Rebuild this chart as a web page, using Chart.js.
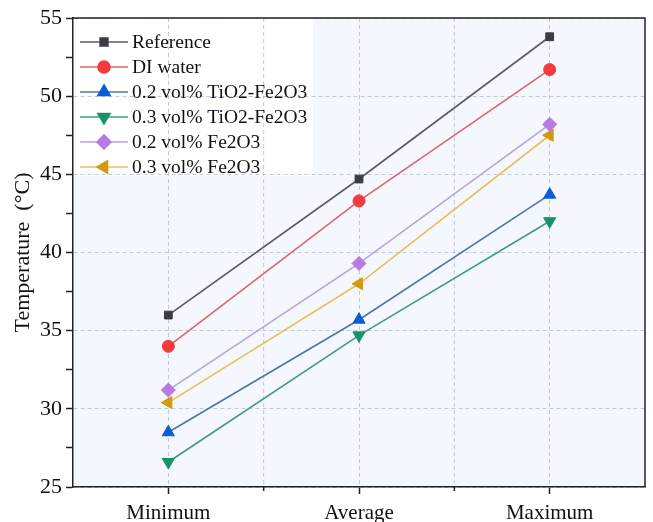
<!DOCTYPE html>
<html>
<head>
<meta charset="utf-8">
<script src="https://cdn.jsdelivr.net/npm/chart.js@4"></script>
<style>
  html, body { margin: 0; padding: 0; background: #fff; overflow: hidden; }
  #wrap { width: 653px; height: 522px; }
</style>
</head>
<body>
<div id="wrap"><canvas id="tempChart"></canvas></div>
<script>
// Dados
const categorias = ['Minimum', 'Average', 'Maximum'];
const reference = [36.0, 44.7, 53.8];
const diWater = [34.0, 43.3, 51.7];
const tio2Fe2o3_02 = [28.5, 35.7, 43.7];
const tio2Fe2o3_03 = [26.6, 34.7, 42.0];
const fe2o3_02 = [31.2, 39.3, 48.2];
const fe2o3_03 = [30.4, 38.0, 47.5];

const fonte = '"Liberation Serif", "Times New Roman", serif';
const corGrade = 'rgba(170, 180, 205, 0.7)';

const serie = (label, data, line, marker, style, radius, rot) => ({
    label, data,
    borderColor: line,
    borderWidth: 1.6,
    pointStyle: style,
    pointRotation: rot || 0,
    pointRadius: radius,
    pointBackgroundColor: marker,
    pointBorderColor: marker,
    pointBorderWidth: 1,
    tension: 0
});

// Fundo da área do gráfico, caixa da legenda e moldura
const molduraPlugin = {
    id: 'moldura',
    beforeDraw(chart) {
        const { ctx, chartArea: a } = chart;
        ctx.save();
        ctx.fillStyle = '#f4f7fd';
        ctx.fillRect(a.left, a.top, a.right - a.left, a.bottom - a.top);
        ctx.fillStyle = '#ffffff';
        ctx.fillRect(a.left, a.top, 240, 158);
        ctx.restore();
    },
    beforeDatasetsDraw(chart) {
        // linhas de grade nas divisões entre categorias + ticks menores
        const { ctx, chartArea: a, scales: { x } } = chart;
        ctx.save();
        for (let i = 0; i < categorias.length - 1; i++) {
            const px = (x.getPixelForValue(i) + x.getPixelForValue(i + 1)) / 2;
            ctx.strokeStyle = corGrade;
            ctx.lineWidth = 1;
            ctx.setLineDash([4, 3]);
            ctx.beginPath();
            ctx.moveTo(px, a.top);
            ctx.lineTo(px, a.bottom);
            ctx.stroke();
            ctx.setLineDash([]);
            ctx.strokeStyle = '#222';
            ctx.lineWidth = 1.5;
            ctx.beginPath();
            ctx.moveTo(px, a.bottom);
            ctx.lineTo(px, a.bottom + 4);
            ctx.stroke();
        }
        ctx.restore();
    },
    afterDraw(chart) {
        const { ctx, chartArea: a } = chart;
        ctx.save();
        ctx.strokeStyle = '#222';
        ctx.lineWidth = 1.5;
        ctx.beginPath();
        ctx.moveTo(a.left, a.top);
        ctx.lineTo(a.right, a.top);
        ctx.lineTo(a.right, a.bottom);
        ctx.stroke();

        // Legenda dentro da área do gráfico
        ctx.font = '19.5px ' + fonte;
        ctx.textBaseline = 'middle';
        chart.data.datasets.forEach((ds, i) => {
            const y = a.top + 24 + i * 25;
            const x0 = a.left + 7;
            ctx.strokeStyle = ds.borderColor;
            ctx.lineWidth = 1.6;
            ctx.beginPath();
            ctx.moveTo(x0, y);
            ctx.lineTo(x0 + 48, y);
            ctx.stroke();
            ctx.fillStyle = ds.pointBackgroundColor;
            ctx.strokeStyle = ds.pointBorderColor;
            Chart.helpers.drawPoint(ctx, {
                pointStyle: ds.pointStyle,
                rotation: ds.pointRotation,
                radius: ds.pointRadius,
                borderWidth: 1
            }, x0 + 24, y);
            ctx.fillStyle = '#111';
            ctx.fillText(ds.label, x0 + 52, y + 1);
        });
        ctx.restore();
    }
};

new Chart(document.getElementById('tempChart'), {
    type: 'line',
    data: {
        labels: categorias,
        datasets: [
            serie('Reference', reference, '#5a5a60', '#3c3c44', 'rect', 5.5),
            serie('DI water', diWater, '#e26464', '#f23c3c', 'circle', 6),
            serie('0.2 vol% TiO2-Fe2O3', tio2Fe2o3_02, '#4f74ad', '#0b5cd5', 'triangle', 7),
            serie('0.3 vol% TiO2-Fe2O3', tio2Fe2o3_03, '#3f9c7c', '#17936a', 'triangle', 7, 180),
            serie('0.2 vol% Fe2O3', fe2o3_02, '#b9a3dc', '#b77be2', 'rectRot', 7),
            serie('0.3 vol% Fe2O3', fe2o3_03, '#e3c459', '#d39a0c', 'triangle', 7, -90)
        ]
    },
    options: {
        responsive: true,
        maintainAspectRatio: false,
        animation: false,
        layout: { padding: { top: 18, right: 1, left: 0, bottom: 0 } },
        plugins: {
            legend: { display: false },
            tooltip: { enabled: false }
        },
        scales: {
            x: {
                offset: true,
                afterFit: (s) => { s.height = 35; s.paddingLeft = 0; s.paddingRight = 0; },
                grid: {
                    offset: false,
                    color: corGrade,
                    tickColor: '#222',
                    tickLength: 7,
                    tickWidth: 1.5
                },
                border: { color: '#222', width: 1.5, dash: [4, 3] },
                ticks: {
                    color: '#111',
                    padding: 7,
                    font: { family: fonte, size: 21 }
                }
            },
            y: {
                min: 25,
                max: 55,
                afterFit: (s) => { s.width = 73; },
                title: {
                    display: true,
                    text: 'Temperature\u2002(°C)',
                    color: '#111',
                    padding: { top: 10, bottom: 0 },
                    font: { family: fonte, size: 22 }
                },
                grid: {
                    color: (c) => (c.tick && c.tick.value % 5 === 0) ? corGrade : 'transparent',
                    tickColor: '#222',
                    tickLength: 7,
                    tickWidth: 1.5
                },
                border: { color: '#222', width: 1.5, dash: [4, 3] },
                ticks: {
                    stepSize: 2.5,
                    color: '#111',
                    padding: 4,
                    font: { family: fonte, size: 22 },
                    callback: (v) => v % 5 === 0 ? v : ''
                }
            }
        }
    },
    plugins: [molduraPlugin]
});
</script>
</body>
</html>
